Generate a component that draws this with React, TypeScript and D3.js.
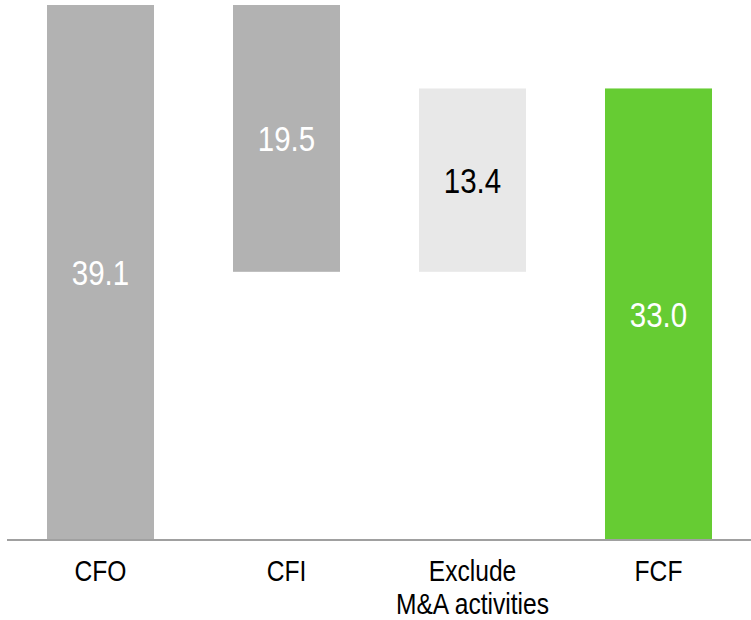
import React from "react";
import * as d3 from "d3";

// Cash-flow bridge: operating cash flow, investing cash flow, M&A add-back, free cash flow
const categories = ["CFO", "CFI", "Exclude\nM&A activities", "FCF"];
const values = [39.1, -19.5, 13.4, 33.0];
const kinds = ["total", "delta", "delta", "total"];
const labels = ["39.1", "19.5", "13.4", "33.0"];

const W = 751;
const H = 620;
const BASE_Y = 540;
const TOP_Y = 5;

const FILL: Record<string, string> = {
  CFO: "#b2b2b2",
  CFI: "#b2b2b2",
  "Exclude\nM&A activities": "#e8e8e8",
  FCF: "#66cc33",
};
const LABEL_FILL: Record<string, string> = {
  CFO: "#ffffff",
  CFI: "#ffffff",
  "Exclude\nM&A activities": "#000000",
  FCF: "#ffffff",
};

// condensed sans: regular Liberation Sans squeezed horizontally
const FONT = "'Liberation Sans', Arial, sans-serif";
const SQUEEZE = 0.82;

export default function App() {
  // running totals for the floating segments
  let running = 0;
  const segs = categories.map((c, i) => {
    let y0: number, y1: number;
    if (kinds[i] === "total") {
      y0 = 0;
      y1 = values[i];
      running = values[i];
    } else {
      y0 = running;
      y1 = running + values[i];
      running = y1;
    }
    return { c, lo: Math.min(y0, y1), hi: Math.max(y0, y1), label: labels[i] };
  });

  const x = d3
    .scaleBand<string>()
    .domain(categories)
    .range([7.5, 751.5])
    .paddingInner(0.4247)
    .paddingOuter(0.4247 / 2);

  const maxV = d3.max(segs, (s) => s.hi) as number;
  const y = d3.scaleLinear().domain([0, maxV]).range([BASE_Y, TOP_Y]);

  return (
    <svg
      width={W}
      height={H}
      style={{ position: "absolute", left: 0, top: 0, background: "#fff" }}
    >
      {segs.map((s) => {
        const bx = x(s.c)!;
        const cx = bx + x.bandwidth() / 2;
        const cy = (y(s.hi) + y(s.lo)) / 2;
        return (
          <g key={s.c}>
            <rect
              x={bx}
              y={y(s.hi)}
              width={x.bandwidth()}
              height={y(s.lo) - y(s.hi)}
              fill={FILL[s.c]}
            />
            <text
              transform={`translate(${cx},${cy}) scale(${SQUEEZE},1)`}
              dy="0.36em"
              textAnchor="middle"
              fontFamily={FONT}
              fontSize={36}
              fill={LABEL_FILL[s.c]}
            >
              {s.label}
            </text>
          </g>
        );
      })}
      <line x1={7} x2={751} y1={BASE_Y} y2={BASE_Y} stroke="#a0a0a0" strokeWidth={2} />
      {categories.map((c) => {
        const cx = x(c)! + x.bandwidth() / 2;
        return c.split("\n").map((line, j) => (
          <text
            key={c + j}
            transform={`translate(${cx},${581 + j * 33}) scale(${SQUEEZE},1)`}
            textAnchor="middle"
            fontFamily={FONT}
            fontSize={30}
            fill="#000"
          >
            {line}
          </text>
        ));
      })}
    </svg>
  );
}
